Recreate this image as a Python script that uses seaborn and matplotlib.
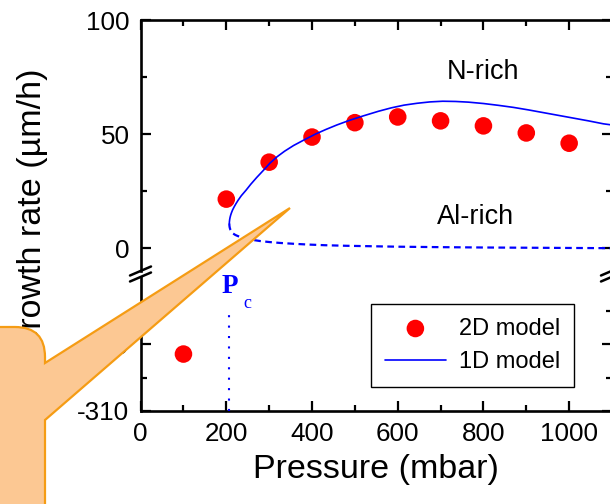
import matplotlib
matplotlib.use("Agg")
import matplotlib.pyplot as plt
import seaborn as sns
from matplotlib.path import Path
from matplotlib.patches import PathPatch
from matplotlib.lines import Line2D
from matplotlib.ticker import FixedLocator

# ---------------- data ----------------
pressure_2d = [100, 200, 300, 400, 500, 600, 700, 800, 900, 1000]
rate_2d = [-301.5, 21.5, 37.7, 48.7, 55.0, 57.5, 55.8, 53.6, 50.5, 46.0]

# 1D model, stable (upper) branch
upper_p = [207, 207.2, 207.8, 208.8, 210.2, 212, 214.5, 218, 222.5, 227.5, 235, 246,
           257, 271, 286, 302, 318, 336, 357, 382, 408, 432, 458, 487, 520, 555,
           585, 615, 645, 675, 705, 735, 765, 800, 835, 870, 905, 940, 975, 1010,
           1045, 1080, 1100]
upper_r = [10.8, 11.5, 12.5, 13.5, 14.5, 15.5, 16.7, 18.0, 19.5, 21.0, 23.0, 25.4,
           28.0, 31.0, 34.0, 37.3, 40.0, 42.5, 45.0, 47.5, 50.0, 52.0, 54.0, 56.0,
           58.0, 60.0, 61.5, 62.7, 63.5, 64.1, 64.4, 64.3, 64.0, 63.4, 62.6, 61.7,
           60.6, 59.4, 58.2, 57.0, 55.8, 54.5, 54.0]

# 1D model, unstable (lower) branch
lower_p = [207, 207.3, 208, 209.5, 212, 216, 221, 227, 234, 243, 254, 266, 280, 300,
           325, 355, 390, 430, 480, 540, 600, 700, 800, 900, 1000, 1100]
lower_r = [10.8, 9.8, 9.0, 8.1, 7.2, 6.4, 5.8, 5.3, 4.9, 4.4, 3.9, 3.5, 3.1, 2.7,
           2.3, 1.95, 1.6, 1.3, 1.05, 0.85, 0.65, 0.45, 0.3, 0.2, 0.1, 0.0]

pc_p = [206, 206]
pc_r = [-310, -295.2]

x_major = [0, 200, 400, 600, 800, 1000]
x_minor = [100, 300, 500, 700, 900, 1100]
y_top_major = [0, 50, 100]
y_top_minor = [25, 75]
y_bot_major = [-310, -300]
y_bot_minor = [-305, -295]

# ---------------- style ----------------
sns.set_style("ticks")
plt.rcParams['font.family'] = ['Liberation Sans', 'DejaVu Sans']
plt.rcParams['axes.unicode_minus'] = False
plt.rcParams['text.color'] = 'black'
plt.rcParams['axes.labelcolor'] = 'black'
plt.rcParams['xtick.color'] = 'black'
plt.rcParams['ytick.color'] = 'black'
plt.rcParams['xtick.labelcolor'] = 'black'
plt.rcParams['ytick.labelcolor'] = 'black'

W, H = 610, 504
fig = plt.figure(figsize=(W / 100, H / 100), dpi=100)
fig.patch.set_facecolor('white')


def box(l, t, r, b):
    return [l / W, 1 - b / H, (r - l) / W, (b - t) / H]


ax_top = fig.add_axes(box(140.6, 20, 612, 271))
ax_bot = fig.add_axes(box(140.6, 277, 612, 411))

BLUE = (0, 0, 1)
RED = (1, 0, 0)

for ax in (ax_top, ax_bot):
    sns.scatterplot(x=pressure_2d, y=rate_2d, ax=ax, color=RED, s=160,
                    edgecolor='none', linewidth=0, zorder=3,
                    label='2D model' if ax is ax_top else None, legend=False)

sns.lineplot(x=upper_p, y=upper_r, ax=ax_top, sort=False, estimator=None,
             color=BLUE, linewidth=1.2, zorder=4, label='1D model', legend=False)
sns.lineplot(x=lower_p, y=lower_r, ax=ax_top, sort=False, estimator=None,
             color=BLUE, linewidth=1.6, linestyle=(0, (3, 2)), zorder=4, legend=False)
sns.lineplot(x=pc_p, y=pc_r, ax=ax_bot, sort=False, estimator=None,
             color=BLUE, linewidth=1.5, linestyle=(0, (1, 4)), zorder=4, legend=False)

ax_top.set_xlim(0, 1100)
ax_bot.set_xlim(0, 1100)
ax_top.set_ylim(-10, 100)
ax_bot.set_ylim(-310, -290)

for ax in (ax_top, ax_bot):
    ax.set_xlabel('')
    ax.set_ylabel('')
    ax.set_facecolor('white')
    for s in ax.spines.values():
        s.set_linewidth(1.9)
        s.set_color('black')
    ax.xaxis.set_major_locator(FixedLocator(x_major))
    ax.xaxis.set_minor_locator(FixedLocator(x_minor))
    ax.tick_params(which='major', direction='in', length=7.5, width=1.6,
                   labelsize=18.7, pad=8, color='black', labelcolor='black')
    ax.tick_params(which='minor', direction='in', length=4, width=1.6, color='black')

ax_top.spines['bottom'].set_visible(False)
ax_bot.spines['top'].set_visible(False)

ax_top.yaxis.set_major_locator(FixedLocator(y_top_major))
ax_top.yaxis.set_minor_locator(FixedLocator(y_top_minor))
ax_bot.yaxis.set_major_locator(FixedLocator(y_bot_major))
ax_bot.yaxis.set_minor_locator(FixedLocator(y_bot_minor))

ax_top.tick_params(axis='x', which='both', top=True, bottom=False,
                   labelbottom=False, labeltop=False)
ax_top.tick_params(axis='y', which='both', left=True, right=True,
                   labelleft=True, labelright=False)
ax_bot.tick_params(axis='x', which='both', top=False, bottom=True,
                   labelbottom=True)
ax_bot.tick_params(axis='y', which='both', left=True, right=True,
                   labelleft=True, labelright=False)

# annotations
ax_top.text(800, 77, 'N-rich', ha='center', va='center', fontsize=19.5, color='black')
ax_top.text(782, 13.6, 'Al-rich', ha='center', va='center', fontsize=19.5, color='black')
ax_bot.text(190, -292.4, 'P', color=BLUE, fontsize=19.5, fontweight='bold',
            family=['Liberation Serif', 'DejaVu Serif'], ha='left', va='baseline',
            clip_on=False)
ax_bot.text(239, -294.6, 'c', color=BLUE, fontsize=13,
            family=['Liberation Serif', 'DejaVu Serif'], ha='left', va='baseline',
            clip_on=False)

# legend
handles, labels = ax_top.get_legend_handles_labels()
hmap = dict(zip(labels, handles))
leg = ax_bot.legend([hmap['2D model'], hmap['1D model']], ['2D model', '1D model'],
                    loc='upper left', bbox_to_anchor=(371 / W, 1 - 304 / H),
                    bbox_transform=fig.transFigure, borderaxespad=0,
                    frameon=True, fancybox=False, fontsize=17,
                    handlelength=2.6, handletextpad=0.55, borderpad=0.58,
                    labelspacing=0.5, scatterpoints=1)
leg.get_frame().set_edgecolor('black')
leg.get_frame().set_linewidth(1.0)
leg.get_frame().set_facecolor('white')
leg.get_frame().set_alpha(1)
for t in leg.get_texts():
    t.set_color('black')

# axis labels
fig.text(376 / W, 1 - 478 / H, 'Pressure (mbar)', ha='center', va='baseline',
         fontsize=24.5, zorder=5, color='black')
fig.text(33 / W, 1 - 212 / H, 'Growth rate (µm/h)', ha='center', va='center',
         rotation=90, fontsize=24.5, zorder=5, color='black')

# axis break marks
def fig_line(x0, y0, x1, y1, **kw):
    fig.add_artist(Line2D([x0 / W, x1 / W], [1 - y0 / H, 1 - y1 / H],
                          transform=fig.transFigure, **kw))

for yb in (271, 277):
    fig_line(130, yb + 4.5, 151, yb - 4.5, color='black', lw=1.8, zorder=6)
    fig_line(601, yb + 4.5, 622, yb - 4.5, color='black', lw=1.8, zorder=6)

# callout bubble overlay
pts = [(-10, 327), (15, 327), (45, 327), (45, 357), (45, 363), (290, 208),
       (45, 420), (45, 520), (-10, 520), (-10, 327)]
codes = [Path.MOVETO, Path.LINETO, Path.CURVE3, Path.CURVE3, Path.LINETO,
         Path.LINETO, Path.LINETO, Path.LINETO, Path.LINETO, Path.CLOSEPOLY]
verts = [(x / W, 1 - y / H) for x, y in pts]
bubble = PathPatch(Path(verts, codes), transform=fig.transFigure,
                   facecolor='#FCC893', edgecolor='#F59C14', linewidth=1.6,
                   zorder=20, joinstyle='miter')
fig.add_artist(bubble)

fig.savefig('out.png', dpi=100, facecolor='white')
